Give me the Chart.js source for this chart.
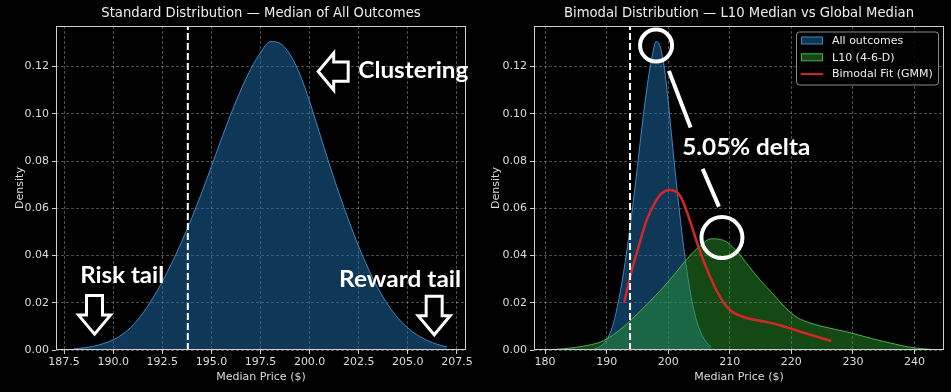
<!DOCTYPE html>
<html>
<head>
<meta charset="utf-8">
<script src="https://cdn.jsdelivr.net/npm/chart.js@4.4.0/dist/chart.umd.min.js"></script>
<style>
  html, body { margin: 0; padding: 0; background: #000; }
  #left { position: absolute; left: 0; top: 0; }
  #right { position: absolute; left: 476px; top: 0; }
</style>
</head>
<body>
<canvas id="left" width="475" height="392"></canvas>
<canvas id="right" width="475" height="392"></canvas>
<script>
// all simulated outcomes (density of the median price)
var allPrice = [188, 188.5, 189, 189.5, 190, 190.5, 191, 191.5, 192, 192.5, 193, 193.5, 194, 194.5,
  195, 195.5, 196, 196.5, 197, 197.5, 198, 198.5, 199, 199.5, 200, 200.5, 201, 201.5, 202, 202.5,
  203, 203.5, 204, 204.5, 205, 205.5, 206, 206.5, 207];
var allDensity = [0.0005, 0.0009, 0.0016, 0.0027, 0.0043, 0.0068, 0.0105, 0.0155, 0.0217, 0.0289,
  0.0371, 0.0461, 0.0559, 0.0665, 0.0777, 0.0891, 0.1001, 0.1101, 0.1189, 0.1259, 0.1306, 0.1298,
  0.1252, 0.1168, 0.1052, 0.0920, 0.0788, 0.0663, 0.0546, 0.0438, 0.0342, 0.0259, 0.0190, 0.0135,
  0.0093, 0.0062, 0.0040, 0.0024, 0.0013];

// L10 (4-6-D) outcomes
var l10Price = [181, 183, 185, 187, 189, 191, 193, 195, 197, 199, 201, 203, 205, 207, 209, 211,
  213, 215, 217, 219, 221, 223, 225, 227, 229, 231, 233, 235, 237, 239, 241, 243];
var l10Density = [0.0002, 0.0005, 0.0011, 0.0020, 0.0034, 0.0063, 0.0104, 0.0153, 0.0205, 0.0260,
  0.0320, 0.0384, 0.0437, 0.0471, 0.0464, 0.0422, 0.0358, 0.0294, 0.0238, 0.0180, 0.0137, 0.0115,
  0.0100, 0.0088, 0.0077, 0.0063, 0.0049, 0.0036, 0.0024, 0.0013, 0.0006, 0.0002];

// bimodal fit (GMM)
var gmmPrice = [192.85, 194, 195, 196.5, 198, 199, 200.3, 202, 203.5, 205, 206.8, 208.4, 210,
  212, 214, 216, 218, 220, 222, 224, 226.5];
var gmmDensity = [0.020, 0.033, 0.042, 0.055, 0.063, 0.0665, 0.0678, 0.065, 0.055, 0.043, 0.031,
  0.0226, 0.017, 0.0142, 0.0128, 0.0118, 0.0106, 0.009, 0.0073, 0.0057, 0.0038];

var medianPrice = 193.8;
var yTicks = [0, 0.02, 0.04, 0.06, 0.08, 0.10, 0.12];
var leftXTicks = [187.5, 190, 192.5, 195, 197.5, 200, 202.5, 205, 207.5];
var rightXTicks = [180, 190, 200, 210, 220, 230, 240];
var yMax = 0.1372;

var FONT = 'DejaVu Sans';
var BLUE_FILL = 'rgba(28,110,175,0.5)';
var BLUE_LINE = '#3f86bd';
var GREEN_FILL = 'rgba(44,160,44,0.45)';
var GREEN_LINE = '#4cb04c';
var RED = '#d62728';

function pts(xs, ys) {
  return xs.map(function(x, i) { return {x: x, y: ys[i]}; });
}

function medianDataset() {
  return {
    data: [{x: medianPrice, y: 0}, {x: medianPrice, y: yMax}],
    borderColor: '#ffffff', borderWidth: 2, borderDash: [7, 3],
    pointRadius: 0, fill: false, order: 0
  };
}

function xScale(min, max, ticks, decimals) {
  return {
    type: 'linear', min: min, max: max, z: 1,
    afterBuildTicks: function(s) { s.ticks = ticks.map(function(v) { return {value: v}; }); },
    afterFit: function(s) { s.height = 42; },
    ticks: {
      color: '#dddddd', font: {family: FONT, size: 11}, padding: 2, maxRotation: 0, autoSkip: false,
      callback: function(v) { return Number(v).toFixed(decimals); }
    },
    grid: { color: 'rgba(255,255,255,0.38)', lineWidth: 0.8, tickLength: 4, tickColor: '#cccccc', tickWidth: 1 },
    border: { display: false, dash: [3, 2] },
    title: { display: true, text: 'Median Price ($)', color: '#dddddd',
      font: {family: FONT, size: 11}, padding: {top: 0, bottom: 8.4} }
  };
}

function yScale(width) {
  return {
    type: 'linear', min: 0, max: yMax, z: 1,
    afterBuildTicks: function(s) { s.ticks = yTicks.map(function(v) { return {value: v}; }); },
    afterFit: function(s) { s.width = width; },
    ticks: {
      color: '#dddddd', font: {family: FONT, size: 11}, padding: 3,
      callback: function(v) { return Number(v).toFixed(2); }
    },
    grid: { color: 'rgba(255,255,255,0.38)', lineWidth: 0.8, tickLength: 4, tickColor: '#cccccc', tickWidth: 1 },
    border: { display: false, dash: [3, 2] },
    title: { display: true, text: 'Density', color: '#dddddd',
      font: {family: FONT, size: 11}, padding: {top: 13.4, bottom: 0} }
  };
}

// drawing helpers for titles, frame and the hand-drawn annotations
function px(chart, x, y) {
  return [chart.scales.x.getPixelForValue(x), chart.scales.y.getPixelForValue(y)];
}

function drawTitle(ctx, text, x, y) {
  ctx.save();
  ctx.font = '13.2px ' + FONT;
  ctx.fillStyle = '#eeeeee';
  ctx.textAlign = 'center';
  ctx.textBaseline = 'middle';
  ctx.fillText(text, x, y);
  ctx.restore();
}

function drawFrame(ctx, a) {
  ctx.save();
  ctx.strokeStyle = '#cfcfcf';
  ctx.lineWidth = 1;
  ctx.strokeRect(Math.round(a.left) + 0.5, Math.round(a.top) + 0.5,
    Math.round(a.right - a.left) - 1, Math.round(a.bottom - a.top) - 1);
  ctx.restore();
}

function boldText(ctx, text, x, y, size, width) {
  ctx.save();
  ctx.font = 'bold ' + size + 'px Lato';
  var w = ctx.measureText(text).width;
  ctx.translate(x, y);
  ctx.scale(width / w, 1);
  ctx.fillStyle = '#ffffff';
  ctx.textBaseline = 'alphabetic';
  ctx.fillText(text, 0, 0);
  ctx.restore();
}

function outline(ctx, poly) {
  ctx.save();
  ctx.beginPath();
  ctx.moveTo(poly[0][0], poly[0][1]);
  for (var i = 1; i < poly.length; i++) ctx.lineTo(poly[i][0], poly[i][1]);
  ctx.closePath();
  ctx.fillStyle = '#000';
  ctx.fill();
  ctx.lineWidth = 3;
  ctx.lineJoin = 'miter';
  ctx.strokeStyle = '#ffffff';
  ctx.stroke();
  ctx.restore();
}

function downArrow(ctx, x, y) {
  outline(ctx, [[x, y - 1.5], [x - 16, y - 20.5], [x - 8, y - 20.5], [x - 8, y - 40],
    [x + 8, y - 40], [x + 8, y - 20.5], [x + 16, y - 20.5]]);
}

function leftArrow(ctx, x, y) {
  outline(ctx, [[x + 1.5, y], [x + 17, y - 18.5], [x + 17, y - 9.7], [x + 31.5, y - 9.7],
    [x + 31.5, y + 9.7], [x + 17, y + 9.7], [x + 17, y + 18.5]]);
}

function circle(ctx, x, y, r) {
  ctx.save();
  ctx.beginPath();
  ctx.arc(x, y, r, 0, Math.PI * 2);
  ctx.lineWidth = 4;
  ctx.strokeStyle = '#ffffff';
  ctx.stroke();
  ctx.restore();
}

function stroke(ctx, p1, p2) {
  ctx.save();
  ctx.beginPath();
  ctx.moveTo(p1[0], p1[1]);
  ctx.lineTo(p2[0], p2[1]);
  ctx.lineWidth = 4;
  ctx.strokeStyle = '#ffffff';
  ctx.stroke();
  ctx.restore();
}

var leftNotes = {
  id: 'leftNotes',
  afterDraw: function(chart) {
    var c = chart.ctx, a = chart.chartArea, p;
    drawTitle(c, 'Standard Distribution \u2014 Median of All Outcomes', (a.left + a.right) / 2, a.top - 12);
    drawFrame(c, a);
    p = px(chart, 202.48, 0.1153); boldText(c, 'Clustering', p[0], p[1], 23, 110);
    p = px(chart, 200.36, 0.1179); leftArrow(c, p[0], p[1]);
    p = px(chart, 188.32, 0.0284); boldText(c, 'Risk tail', p[0], p[1], 22, 84);
    p = px(chart, 189.05, 0.0061); downArrow(c, p[0], p[1]);
    p = px(chart, 201.5, 0.0267); boldText(c, 'Reward tail', p[0], p[1], 22, 122);
    p = px(chart, 206.34, 0.0058); downArrow(c, p[0], p[1]);
  }
};

var rightNotes = {
  id: 'rightNotes',
  afterDraw: function(chart) {
    var c = chart.ctx, a = chart.chartArea, p;
    drawTitle(c, 'Bimodal Distribution \u2014 L10 Median vs Global Median', (a.left + a.right) / 2, a.top - 12);
    drawFrame(c, a);

    p = px(chart, 198.03, 0.1289); circle(c, p[0], p[1], 16);
    p = px(chart, 208.73, 0.0476); circle(c, p[0], p[1], 20.5);
    stroke(c, px(chart, 200.11, 0.1182), px(chart, 203.64, 0.0942));
    stroke(c, px(chart, 205.59, 0.0767), px(chart, 208.24, 0.0607));
    p = px(chart, 202.28, 0.0826); boldText(c, '5.05% delta', p[0], p[1], 23, 128);

    // legend
    var L = a.right - 148, T = a.top + 5.5, W = 142, H = 53;
    c.save();
    c.beginPath();
    c.roundRect(L + 0.5, T + 0.5, W, H, 3);
    c.fillStyle = 'rgba(0,0,0,0.85)';
    c.fill();
    c.strokeStyle = '#8a8a8a';
    c.lineWidth = 1;
    c.stroke();
    var rows = [
      {label: 'All outcomes', fill: BLUE_FILL, line: BLUE_LINE},
      {label: 'L10 (4-6-D)', fill: GREEN_FILL, line: GREEN_LINE},
      {label: 'Bimodal Fit (GMM)', red: true}
    ];
    c.font = '11px ' + FONT;
    c.textBaseline = 'middle';
    rows.forEach(function(r, i) {
      var cy = T + 9 + i * 16.8;
      if (r.red) {
        c.beginPath();
        c.moveTo(L + 5, cy); c.lineTo(L + 27, cy);
        c.strokeStyle = RED; c.lineWidth = 2; c.stroke();
      } else {
        c.fillStyle = r.fill;
        c.fillRect(L + 5, cy - 3.5, 22, 7);
        c.strokeStyle = r.line; c.lineWidth = 1;
        c.strokeRect(L + 5.5, cy - 3.5, 21, 7);
      }
      c.fillStyle = '#eeeeee';
      c.fillText(r.label, L + 36, cy + 0.5);
    });
    c.restore();
  }
};

var leftChart = new Chart(document.getElementById('left').getContext('2d'), {
  type: 'line',
  data: {
    datasets: [
      medianDataset(),
      {
        data: pts(allPrice, allDensity),
        borderColor: BLUE_LINE, borderWidth: 1, backgroundColor: BLUE_FILL,
        fill: 'origin', pointRadius: 0, cubicInterpolationMode: 'monotone', order: 3
      }
    ]
  },
  options: {
    responsive: false, animation: false,
    layout: { padding: {left: 0, right: 9, top: 26, bottom: 0} },
    plugins: { legend: {display: false}, tooltip: {enabled: false} },
    scales: { x: xScale(187.09, 207.96, leftXTicks, 1), y: yScale(56) }
  },
  plugins: [leftNotes]
});

var rightChart = new Chart(document.getElementById('right').getContext('2d'), {
  type: 'line',
  data: {
    datasets: [
      medianDataset(),
      {
        data: pts(gmmPrice, gmmDensity),
        borderColor: RED, borderWidth: 2.5, fill: false,
        pointRadius: 0, cubicInterpolationMode: 'monotone', order: 1
      },
      {
        data: pts(l10Price, l10Density),
        borderColor: GREEN_LINE, borderWidth: 1, backgroundColor: GREEN_FILL,
        fill: 'origin', pointRadius: 0, cubicInterpolationMode: 'monotone', order: 2
      },
      {
        data: pts(allPrice, allDensity),
        borderColor: BLUE_LINE, borderWidth: 1, backgroundColor: BLUE_FILL,
        fill: 'origin', pointRadius: 0, cubicInterpolationMode: 'monotone', order: 3
      }
    ]
  },
  options: {
    responsive: false, animation: false,
    layout: { padding: {left: 0, right: 7, top: 26, bottom: 0} },
    plugins: { legend: {display: false}, tooltip: {enabled: false} },
    scales: { x: xScale(178.2, 244.8, rightXTicks, 0), y: yScale(58) }
  },
  plugins: [rightNotes]
});
</script>
</body>
</html>
